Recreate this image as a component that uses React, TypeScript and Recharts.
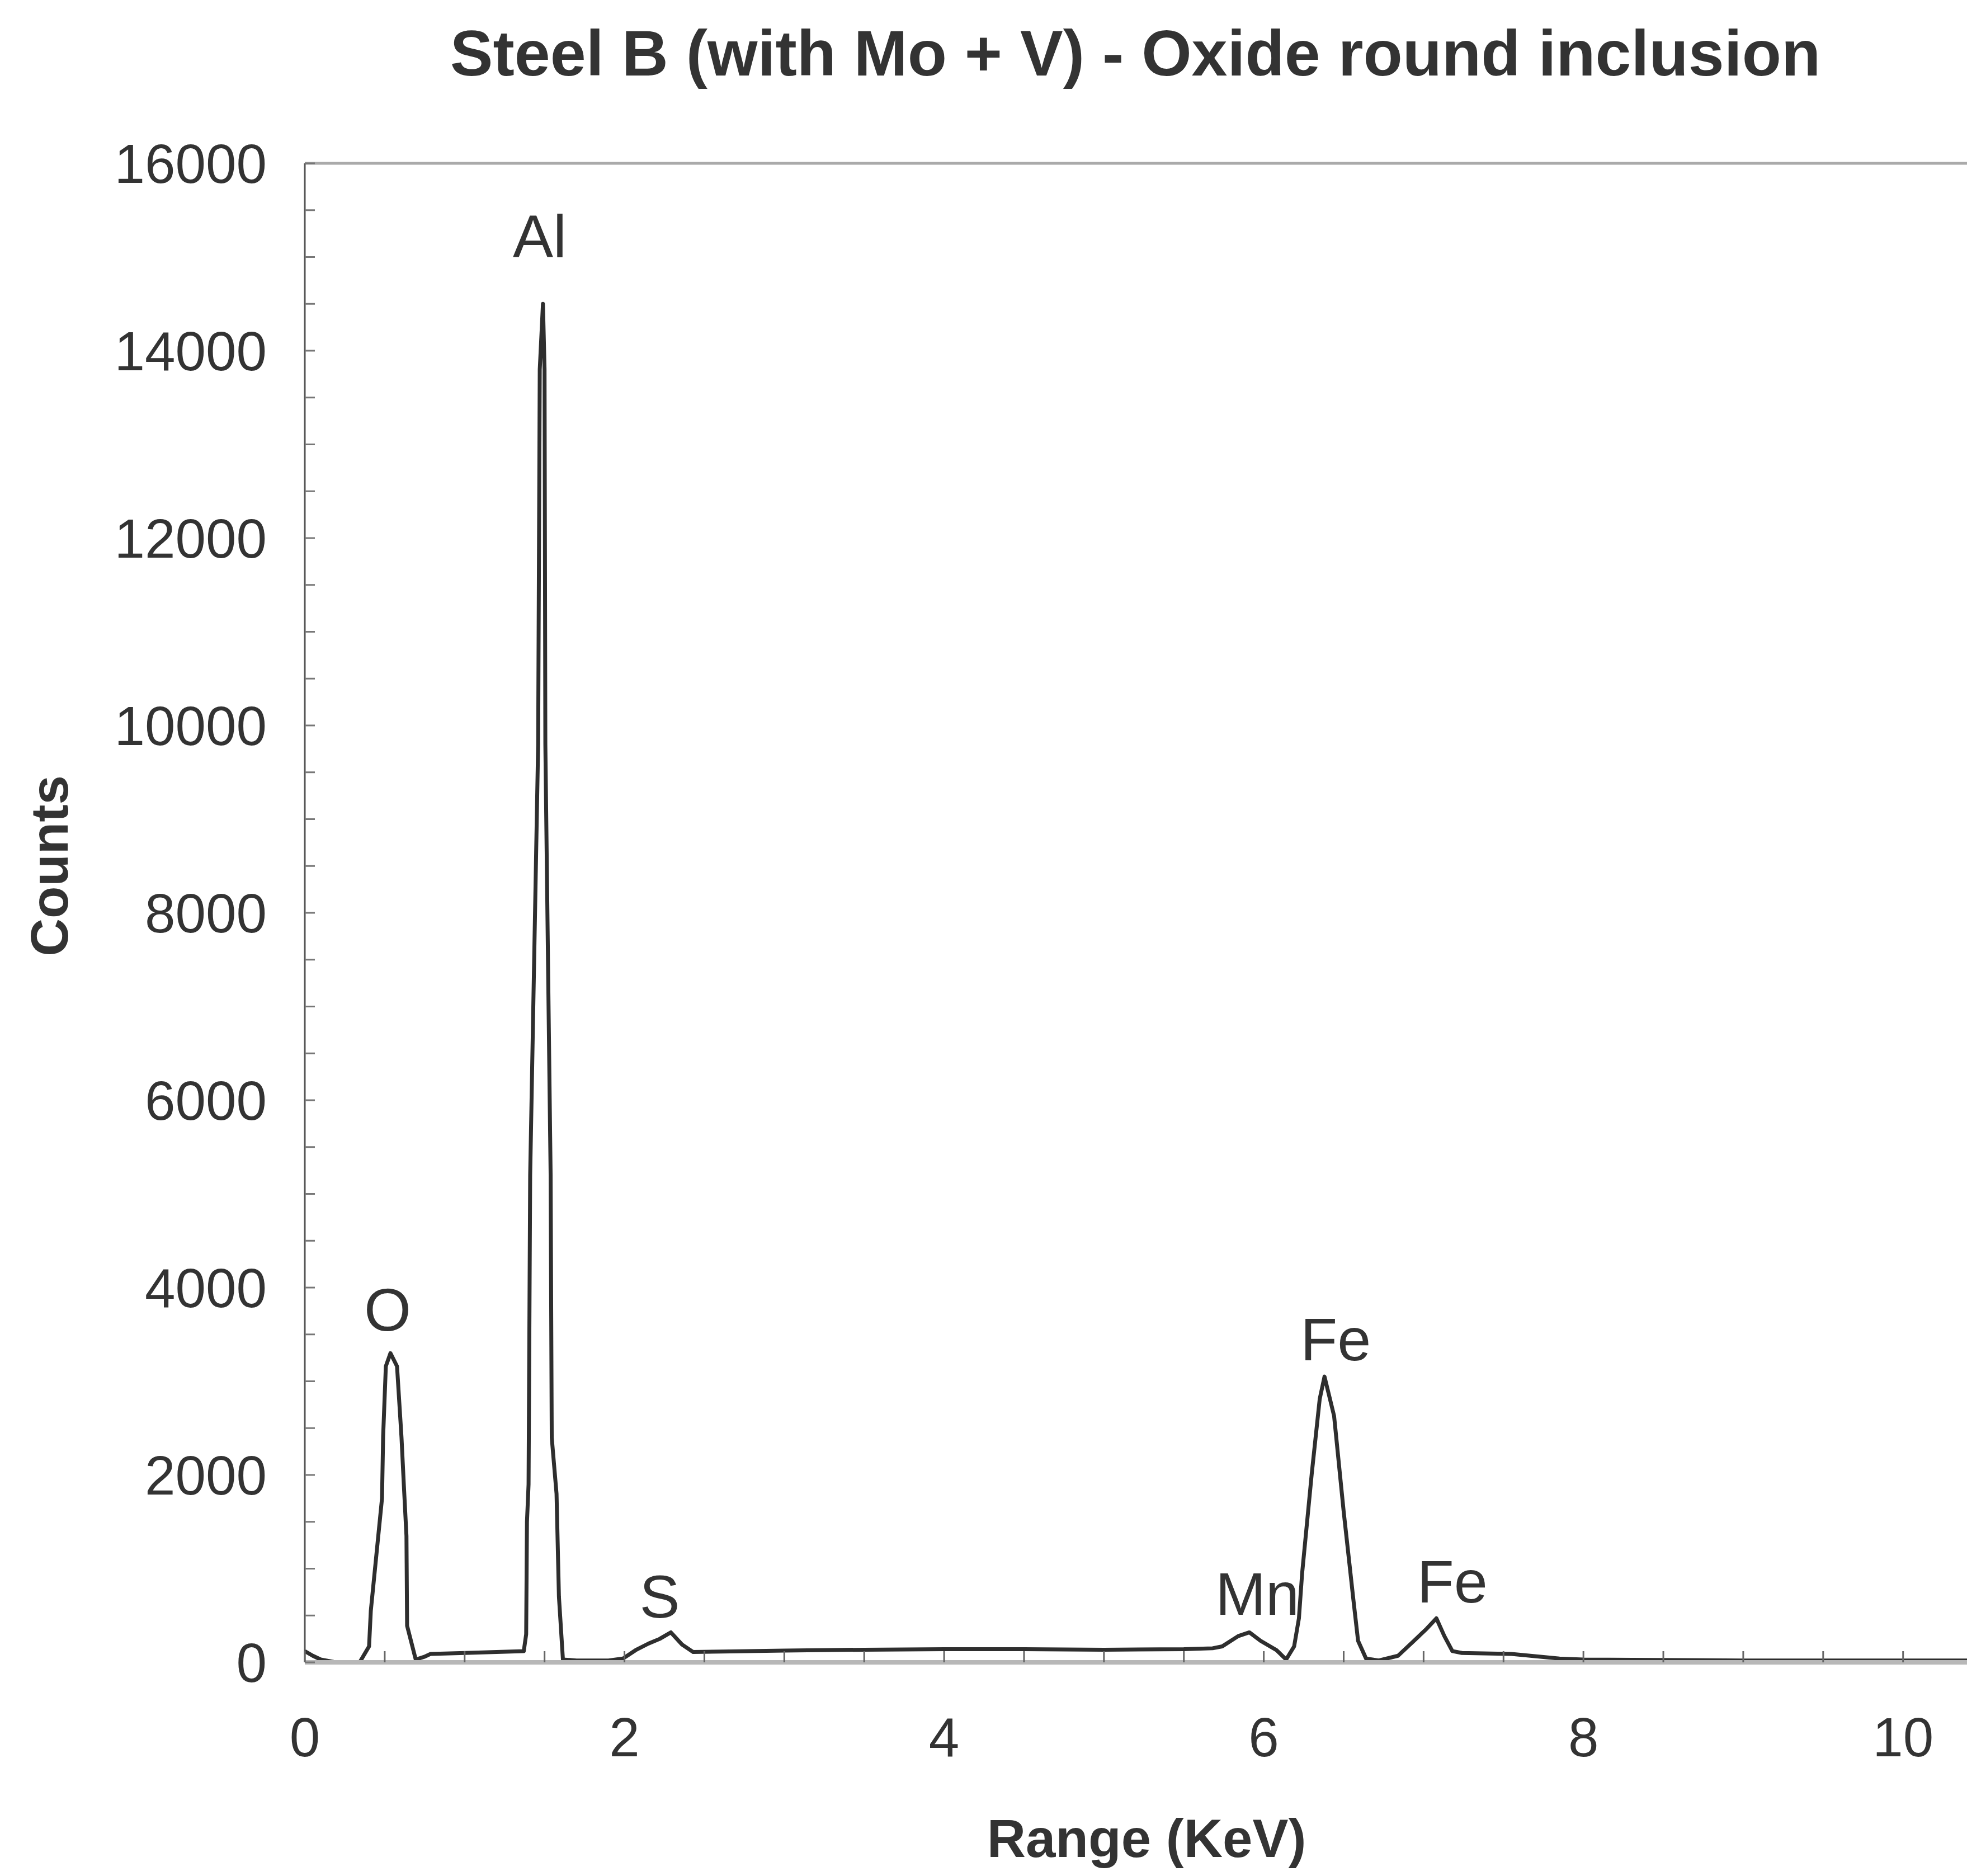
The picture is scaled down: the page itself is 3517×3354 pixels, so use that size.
import { ComposedChart, Line, Scatter, XAxis, YAxis, ReferenceLine } from 'recharts';

// EDS spectrum
const energy = [
  0, 0.05, 0.1, 0.18, 0.25, 0.343, 0.402, 0.413, 0.483, 0.49, 0.507, 0.536, 0.577, 0.605, 0.62, 0.636,
  0.64, 0.694, 0.75, 0.787, 1.0, 1.2, 1.37, 1.385, 1.39, 1.4, 1.41, 1.46, 1.47, 1.49, 1.5, 1.505, 1.538,
  1.545, 1.575, 1.59, 1.615, 1.7, 1.9, 1.99, 2.07, 2.15, 2.22, 2.29, 2.36, 2.43, 2.6, 3.0, 3.5, 4.0, 4.5,
  5.0, 5.5, 5.68, 5.74, 5.84, 5.91, 5.98, 6.08, 6.14, 6.19, 6.22, 6.24, 6.3, 6.35, 6.38, 6.44, 6.5, 6.56,
  6.59, 6.64, 6.72, 6.84, 6.94, 7.02, 7.08, 7.13, 7.18, 7.24, 7.55, 7.85, 8.0, 9.0, 10.0, 10.4,
];
const counts = [
  120, 70, 30, 5, 0, 0, 170, 550, 1750, 2410, 3160, 3300, 3160, 2400, 1880, 1350,
  390, 30, 60, 90, 100, 110, 120, 300, 1500, 1900, 5200, 9800, 13800, 14500, 13800, 9800, 5200,
  2400, 1800, 700, 30, 20, 20, 40, 130, 200, 250, 320, 190, 110, 115, 125, 135, 140, 140,
  135, 140, 150, 170, 280, 320, 230, 130, 30, 170, 470, 950, 2010, 2810, 3050, 2630, 1610, 680,
  230, 40, 20, 70, 230, 360, 470, 280, 120, 100, 90, 40, 30, 20, 20, 20,
];

// peak annotations (text centre / baseline in data units)
const peakNames = ['O', 'Al', 'S', 'Mn', 'Fe', 'Fe'];
const peakKeV = [0.518, 1.47, 2.22, 5.96, 6.45, 7.18];
const peakCounts = [3540, 15000, 478, 507, 3224, 639];

const xTicks = [0, 0.5, 1, 1.5, 2, 2.5, 3, 3.5, 4, 4.5, 5, 5.5, 6, 6.5, 7, 7.5, 8, 8.5, 9, 9.5, 10];
const xLabels = [0, 2, 4, 6, 8, 10];
const yTicks = [
  0, 500, 1000, 1500, 2000, 2500, 3000, 3500, 4000, 4500, 5000, 5500, 6000, 6500, 7000, 7500, 8000,
  8500, 9000, 9500, 10000, 10500, 11000, 11500, 12000, 12500, 13000, 13500, 14000, 14500, 15000, 15500, 16000,
];
const yLabels = [0, 2000, 4000, 6000, 8000, 10000, 12000, 14000, 16000];

const spectrum = energy.map((keV, i) => ({ keV, counts: counts[i] }));
const peaks = peakNames.map((name, i) => ({ name, keV: peakKeV[i], counts: peakCounts[i] }));

const FONT = '"Liberation Sans", Arial, Helvetica, sans-serif';
const TEXT = '#333';
const Y_GAP = 68;
const X_GAP = 168;

function YTick(props: any) {
  const { x, y, payload } = props;
  const ax = x + Y_GAP;
  return (
    <g>
      <line x1={ax} x2={ax + 18} y1={y} y2={y} stroke="#777" strokeWidth={3} />
      {yLabels.includes(payload.value) && (
        <text x={x} y={y} dy={35} textAnchor="end" fontSize={98} fill={TEXT} fontFamily={FONT}>
          {payload.value}
        </text>
      )}
    </g>
  );
}

function XTick(props: any) {
  const { x, y, payload } = props;
  const ay = y - X_GAP;
  return (
    <g>
      <line x1={x} x2={x} y1={ay} y2={ay - 20} stroke="#666" strokeWidth={3} />
      {xLabels.includes(payload.value) && (
        <text x={x} y={y} textAnchor="middle" fontSize={98} fill={TEXT} fontFamily={FONT}>
          {payload.value}
        </text>
      )}
    </g>
  );
}

function CountsLabel(props: any) {
  const { viewBox } = props;
  const x = viewBox.x + 121;
  const y = viewBox.y + viewBox.height / 2 - 84;
  return (
    <text
      x={x}
      y={y}
      transform={`rotate(-90 ${x} ${y})`}
      textAnchor="middle"
      fontSize={94}
      fontWeight="bold"
      fill={TEXT}
      fontFamily={FONT}
    >
      Counts
    </text>
  );
}

function RangeLabel(props: any) {
  const { viewBox } = props;
  return (
    <text
      x={viewBox.x + 1505}
      y={viewBox.y + 348}
      textAnchor="middle"
      fontSize={96}
      fontWeight="bold"
      fill={TEXT}
      fontFamily={FONT}
    >
      Range (KeV)
    </text>
  );
}

function PeakName(props: any) {
  const { cx, cy, payload } = props;
  return (
    <text x={cx} y={cy} textAnchor="middle" fontSize={108} fill={TEXT} fontFamily={FONT}>
      {payload.name}
    </text>
  );
}

export default function App() {
  return (
    <div style={{ position: 'absolute', left: 0, top: 0, width: 3517, height: 3354, background: '#fff' }}>
      <div
        style={{
          position: 'absolute',
          top: 38,
          left: 2030,
          transform: 'translateX(-50%)',
          fontFamily: FONT,
          fontSize: 115,
          fontWeight: 'bold',
          lineHeight: '115px',
          whiteSpace: 'nowrap',
          color: TEXT,
        }}
      >
        Steel B (with Mo + V) - Oxide round inclusion
      </div>
      <ComposedChart width={3517} height={3354} margin={{ top: 292, right: 0, bottom: 0, left: 0 }}>
        <XAxis
          type="number"
          dataKey="keV"
          domain={[0, 10.4]}
          ticks={xTicks}
          interval={0}
          allowDataOverflow
          height={382}
          tickSize={0}
          tickMargin={X_GAP}
          tickLine={false}
          axisLine={{ stroke: '#b8b8b8', strokeWidth: 8 }}
          tick={<XTick />}
          label={<RangeLabel />}
        />
        <YAxis
          type="number"
          dataKey="counts"
          domain={[0, 16000]}
          ticks={yTicks}
          interval={0}
          allowDataOverflow
          width={545}
          tickSize={0}
          tickMargin={Y_GAP}
          tickLine={false}
          axisLine={{ stroke: '#555', strokeWidth: 3 }}
          tick={<YTick />}
          label={<CountsLabel />}
        />
        <ReferenceLine y={16000} stroke="#aaa" strokeWidth={5} />
        <Line
          data={spectrum}
          dataKey="counts"
          type="linear"
          stroke="#2e2e2e"
          strokeWidth={7}
          strokeLinejoin="round"
          dot={false}
          activeDot={false}
          isAnimationActive={false}
        />
        <Scatter data={peaks} dataKey="counts" shape={<PeakName />} isAnimationActive={false} />
      </ComposedChart>
    </div>
  );
}
